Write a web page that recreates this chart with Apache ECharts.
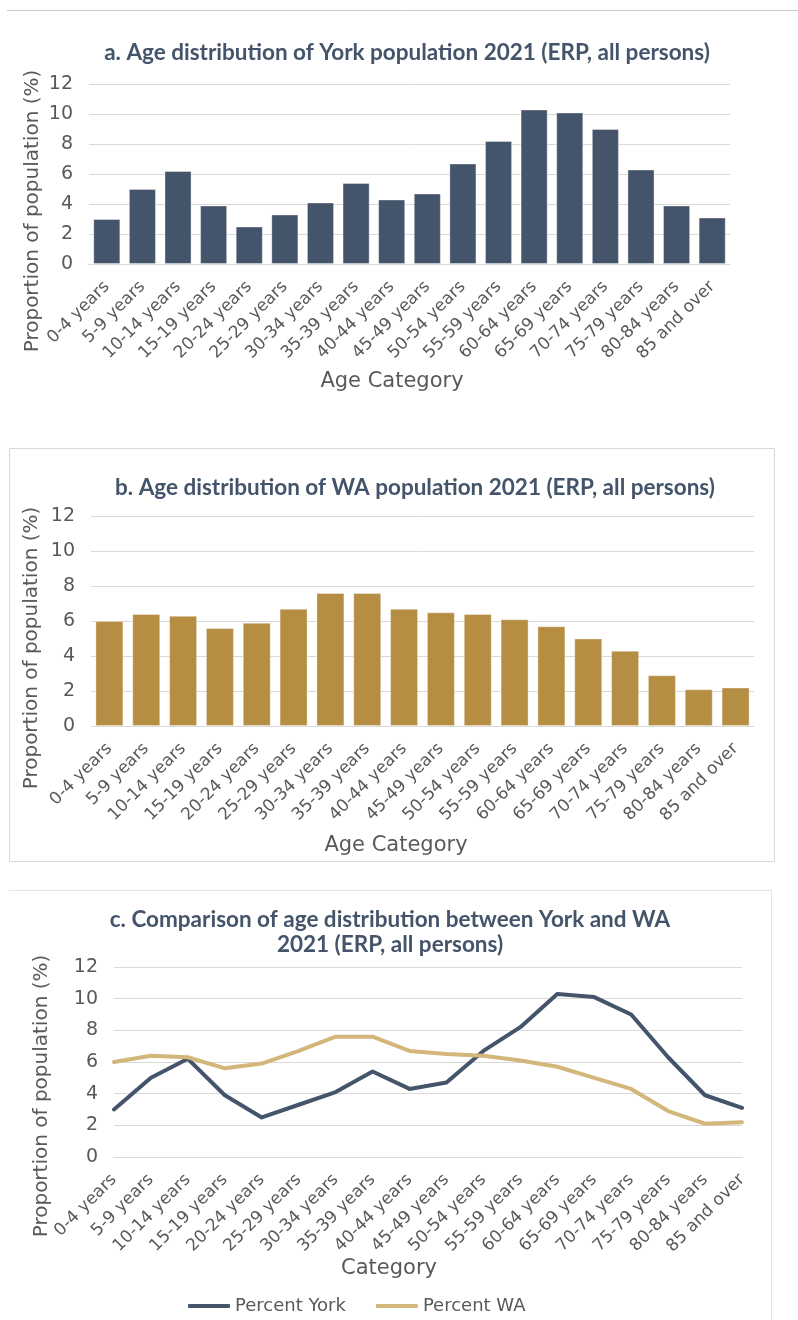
<!DOCTYPE html>
<html>
<head>
<meta charset="utf-8">
<script src="https://cdn.jsdelivr.net/npm/echarts@6/dist/echarts.min.js"></script>
<style>
html, body { margin: 0; padding: 0; background: #fff; }
#chart { width: 798px; height: 1320px; }
</style>
</head>
<body>
<div id="chart"></div>
<script>
// age groups (x axis of all three charts)
const ageCategories = [
  '0-4 years', '5-9 years', '10-14 years', '15-19 years', '20-24 years', '25-29 years',
  '30-34 years', '35-39 years', '40-44 years', '45-49 years', '50-54 years', '55-59 years',
  '60-64 years', '65-69 years', '70-74 years', '75-79 years', '80-84 years', '85 and over',
];
// proportion of population (%)
const yorkPercent = [3.0, 5.0, 6.2, 3.9, 2.5, 3.3, 4.1, 5.4, 4.3, 4.7, 6.7, 8.2, 10.3, 10.1, 9.0, 6.3, 3.9, 3.1];
const waPercent = [6.0, 6.4, 6.3, 5.6, 5.9, 6.7, 7.6, 7.6, 6.7, 6.5, 6.4, 6.1, 5.7, 5.0, 4.3, 2.9, 2.1, 2.2];
const yTicks = [0, 2, 4, 6, 8, 10, 12];
const seriesNames = ['Percent York', 'Percent WA'];

const NAVY = '#44546A';
const GOLD = '#B58E43';
const GOLD_LINE = '#D3B679';
const LABEL = '#595959';
const GRID_LINE = '#D9D9D9';
const FONT = 'DejaVu Sans';
const TITLE_FONT = 'bold 22.5px Lato';

const chart = echarts.init(document.getElementById('chart'));

function yAxisFor(gridIndex) {
  return {
    type: 'value',
    gridIndex,
    min: yTicks[0],
    max: yTicks[yTicks.length - 1],
    interval: yTicks[1] - yTicks[0],
    axisLine: { show: false },
    axisTick: { show: false },
    axisLabel: { color: LABEL, fontFamily: FONT, fontSize: 19, margin: 16 },
    splitLine: { lineStyle: { color: GRID_LINE, width: 1 } },
  };
}

function xAxisFor(gridIndex, boundaryGap) {
  return {
    type: 'category',
    gridIndex,
    data: ageCategories,
    boundaryGap,
    axisLine: { lineStyle: { color: GRID_LINE, width: 1 } },
    axisTick: { show: false },
    axisLabel: {
      color: LABEL, fontFamily: FONT, fontSize: 17, rotate: 45, margin: 20, interval: 0,
    },
  };
}

function label(text, x, y, opts = {}) {
  return {
    type: 'text',
    x,
    y,
    rotation: opts.rotation || 0,
    style: {
      text,
      fill: opts.fill || LABEL,
      font: opts.font || `20px "${FONT}"`,
      align: 'center',
      verticalAlign: 'middle',
      textAlign: 'center',
      textVerticalAlign: 'middle',
    },
  };
}

const option = {
  animation: false,
  backgroundColor: '#fff',
  grid: [
    { left: 89, top: 84, width: 641, height: 180 },
    { left: 91, top: 516, width: 663, height: 210 },
    { left: 114, top: 967, width: 628, height: 190 },
  ],
  xAxis: [xAxisFor(0, true), xAxisFor(1, true), xAxisFor(2, false)],
  yAxis: [yAxisFor(0), yAxisFor(1), yAxisFor(2)],
  legend: {
    data: seriesNames,
    icon: 'roundRect',
    left: 183,
    top: 1292,
    itemWidth: 42,
    itemHeight: 4,
    itemGap: 30,
    textStyle: { color: LABEL, fontFamily: FONT, fontSize: 18 },
  },
  series: [
    {
      type: 'bar',
      xAxisIndex: 0,
      yAxisIndex: 0,
      data: yorkPercent,
      barCategoryGap: '24%',
      itemStyle: { color: NAVY, borderColor: 'rgba(255,255,255,0.35)', borderWidth: 1 },
    },
    {
      type: 'bar',
      xAxisIndex: 1,
      yAxisIndex: 1,
      data: waPercent,
      barCategoryGap: '24%',
      itemStyle: { color: GOLD, borderColor: 'rgba(255,255,255,0.35)', borderWidth: 1 },
    },
    {
      name: seriesNames[0],
      type: 'line',
      xAxisIndex: 2,
      yAxisIndex: 2,
      data: yorkPercent,
      symbol: 'none',
      color: NAVY,
      lineStyle: { color: NAVY, width: 4, cap: 'round', join: 'round' },
    },
    {
      name: seriesNames[1],
      type: 'line',
      xAxisIndex: 2,
      yAxisIndex: 2,
      data: waPercent,
      symbol: 'none',
      color: GOLD_LINE,
      lineStyle: { color: GOLD_LINE, width: 4, cap: 'round', join: 'round' },
    },
  ],
  graphic: [
    // page rule and chart frames
    { type: 'line', shape: { x1: 7, y1: 10.5, x2: 798, y2: 10.5 }, style: { stroke: '#C9C9C9', lineWidth: 1 } },
    { type: 'rect', shape: { x: 9.5, y: 448.5, width: 765, height: 413 }, style: { fill: 'none', stroke: GRID_LINE, lineWidth: 1 } },
    {
      type: 'polyline',
      shape: { points: [[9, 890.5], [771.5, 890.5], [771.5, 1320]] },
      style: { fill: 'none', stroke: '#E3E3E3', lineWidth: 1 },
    },
    // titles
    label('a. Age distribution of York population 2021 (ERP, all persons)', 407, 53, { fill: NAVY, font: TITLE_FONT }),
    label('b. Age distribution of WA population 2021 (ERP, all persons)', 415, 488, { fill: NAVY, font: TITLE_FONT }),
    label('c. Comparison of age distribution between York and WA', 390, 920, { fill: NAVY, font: TITLE_FONT }),
    label('2021 (ERP, all persons)', 390, 945, { fill: NAVY, font: TITLE_FONT }),
    // axis titles
    label('Proportion of population (%)', 33, 211, { rotation: Math.PI / 2 }),
    label('Age Category', 392, 382, { font: `21px "${FONT}"` }),
    label('Proportion of population (%)', 32, 648, { rotation: Math.PI / 2 }),
    label('Age Category', 396, 846, { font: `21px "${FONT}"` }),
    label('Proportion of population (%)', 42, 1096, { rotation: Math.PI / 2 }),
    label('Category', 389, 1269, { font: `21px "${FONT}"` }),
  ],
};

chart.setOption(option);
</script>
</body>
</html>
